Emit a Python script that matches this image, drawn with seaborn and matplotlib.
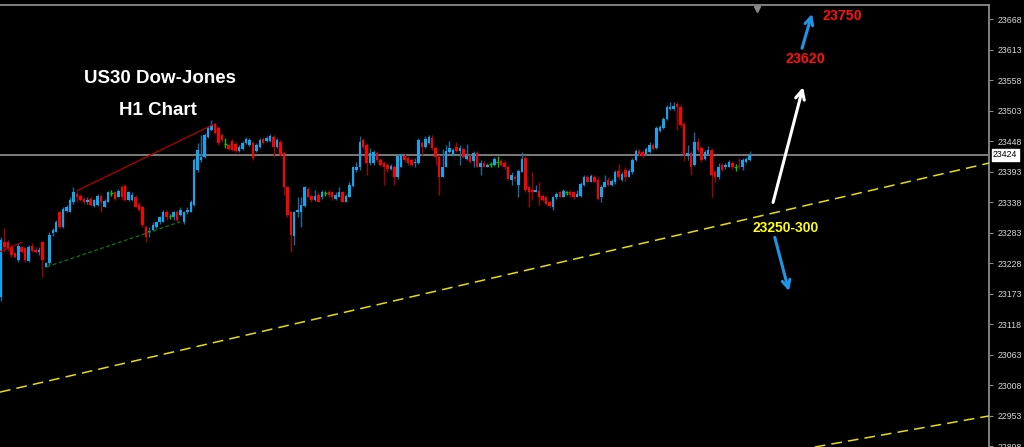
import numpy as np
import pandas as pd
import matplotlib
matplotlib.use("Agg")
import matplotlib.pyplot as plt
import matplotlib.transforms as mtransforms
import seaborn as sns

# US30 H1 candles
opens = [23167, 23267, 23267, 23258, 23246, 23235, 23257, 23255, 23233, 23260,
         23253, 23248, 23267, 23222, 23228, 23282, 23285, 23320, 23294, 23323,
         23321, 23338, 23354, 23350, 23345, 23338, 23345, 23332, 23334, 23350,
         23330, 23339, 23355, 23356, 23348, 23366, 23368, 23343, 23343, 23348,
         23334, 23329, 23294, 23284, 23289, 23293, 23302, 23303, 23321, 23313,
         23311, 23321, 23316, 23302, 23320, 23321, 23334, 23397, 23415, 23420,
         23456, 23469, 23480, 23473, 23460, 23444, 23442, 23449, 23444, 23431,
         23435, 23446, 23442, 23446, 23431, 23438, 23453, 23449, 23449, 23456,
         23438, 23447, 23428, 23365, 23320, 23278, 23320, 23320, 23332, 23363,
         23350, 23343, 23352, 23347, 23355, 23357, 23356, 23345, 23348, 23356,
         23339, 23348, 23368, 23397, 23401, 23451, 23442, 23410, 23410, 23428,
         23415, 23410, 23406, 23399, 23402, 23383, 23402, 23422, 23419, 23415,
         23410, 23410, 23446, 23438, 23446, 23455, 23437, 23420, 23384, 23402,
         23429, 23424, 23438, 23431, 23435, 23417, 23422, 23413, 23428, 23402,
         23410, 23402, 23407, 23406, 23411, 23413, 23410, 23402, 23379, 23384,
         23370, 23393, 23419, 23365, 23361, 23357, 23359, 23350, 23347, 23339,
         23330, 23347, 23356, 23348, 23356, 23357, 23356, 23348, 23350, 23370,
         23384, 23375, 23384, 23379, 23347, 23366, 23379, 23370, 23374, 23395,
         23379, 23397, 23384, 23392, 23415, 23431, 23429, 23426, 23429, 23442,
         23437, 23467, 23473, 23489, 23507, 23507, 23516, 23510, 23480, 23422,
         23428, 23406, 23447, 23437, 23417, 23426, 23433, 23393, 23383, 23406,
         23401, 23402, 23410, 23401, 23404, 23401, 23411, 23415]
closes = [23271, 23257, 23255, 23244, 23239, 23260, 23249, 23235, 23258, 23251,
          23249, 23253, 23235, 23228, 23280, 23289, 23303, 23294, 23327, 23330,
          23343, 23356, 23348, 23343, 23338, 23343, 23334, 23343, 23350, 23338,
          23341, 23356, 23355, 23345, 23359, 23347, 23343, 23356, 23352, 23330,
          23325, 23298, 23276, 23287, 23298, 23302, 23311, 23321, 23311, 23313,
          23320, 23307, 23325, 23320, 23325, 23339, 23415, 23433, 23420, 23460,
          23473, 23478, 23464, 23446, 23451, 23444, 23435, 23433, 23431, 23438,
          23446, 23453, 23451, 23419, 23442, 23451, 23446, 23455, 23458, 23438,
          23451, 23424, 23365, 23316, 23280, 23320, 23325, 23334, 23365, 23348,
          23343, 23350, 23339, 23357, 23355, 23352, 23347, 23352, 23356, 23339,
          23350, 23370, 23401, 23402, 23447, 23438, 23410, 23428, 23429, 23415,
          23406, 23401, 23399, 23404, 23384, 23422, 23424, 23415, 23410, 23406,
          23411, 23451, 23438, 23453, 23456, 23437, 23420, 23384, 23402, 23431,
          23437, 23433, 23431, 23437, 23420, 23422, 23411, 23428, 23402, 23410,
          23402, 23406, 23407, 23417, 23411, 23406, 23401, 23381, 23388, 23381,
          23395, 23417, 23361, 23357, 23356, 23361, 23348, 23343, 23336, 23332,
          23347, 23354, 23348, 23359, 23356, 23352, 23348, 23354, 23372, 23383,
          23375, 23386, 23375, 23345, 23366, 23375, 23370, 23377, 23393, 23383,
          23390, 23384, 23395, 23415, 23431, 23426, 23422, 23435, 23442, 23435,
          23473, 23474, 23489, 23510, 23510, 23512, 23510, 23478, 23424, 23428,
          23402, 23447, 23433, 23415, 23429, 23433, 23388, 23383, 23402, 23397,
          23406, 23411, 23401, 23401, 23401, 23415, 23417, 23424]
highs = [23275, 23291, 23271, 23262, 23249, 23264, 23260, 23258, 23262, 23264,
         23257, 23258, 23269, 23231, 23284, 23291, 23307, 23323, 23329, 23334,
         23347, 23365, 23357, 23354, 23348, 23347, 23348, 23345, 23354, 23354,
         23345, 23359, 23361, 23359, 23363, 23370, 23372, 23359, 23356, 23352,
         23338, 23332, 23298, 23293, 23302, 23305, 23314, 23325, 23325, 23318,
         23323, 23325, 23329, 23323, 23329, 23343, 23419, 23446, 23460, 23464,
         23476, 23487, 23483, 23476, 23464, 23455, 23446, 23453, 23447, 23442,
         23449, 23456, 23455, 23449, 23446, 23455, 23456, 23458, 23462, 23460,
         23455, 23451, 23431, 23368, 23323, 23323, 23347, 23348, 23368, 23366,
         23354, 23361, 23356, 23361, 23359, 23361, 23359, 23356, 23365, 23359,
         23354, 23374, 23404, 23411, 23458, 23455, 23446, 23437, 23433, 23431,
         23419, 23413, 23410, 23408, 23406, 23426, 23428, 23426, 23422, 23419,
         23419, 23455, 23449, 23458, 23460, 23460, 23440, 23424, 23435, 23442,
         23449, 23437, 23447, 23442, 23438, 23444, 23426, 23431, 23431, 23415,
         23413, 23410, 23411, 23420, 23422, 23417, 23415, 23406, 23392, 23388,
         23399, 23429, 23424, 23368, 23393, 23370, 23375, 23354, 23350, 23343,
         23350, 23357, 23359, 23363, 23359, 23361, 23359, 23361, 23375, 23388,
         23388, 23390, 23388, 23383, 23370, 23388, 23383, 23381, 23397, 23408,
         23393, 23401, 23399, 23419, 23435, 23435, 23433, 23438, 23447, 23446,
         23476, 23478, 23492, 23514, 23519, 23519, 23519, 23514, 23483, 23442,
         23431, 23465, 23455, 23440, 23433, 23440, 23437, 23397, 23410, 23410,
         23410, 23415, 23413, 23408, 23419, 23419, 23420, 23431]
lows = [23161, 23248, 23251, 23240, 23237, 23231, 23246, 23231, 23231, 23248,
        23246, 23244, 23203, 23221, 23226, 23278, 23284, 23291, 23291, 23321,
        23320, 23336, 23338, 23341, 23336, 23336, 23332, 23330, 23332, 23321,
        23329, 23338, 23350, 23343, 23347, 23343, 23341, 23341, 23341, 23329,
        23323, 23293, 23266, 23275, 23287, 23291, 23300, 23302, 23307, 23309,
        23307, 23303, 23314, 23300, 23318, 23320, 23332, 23393, 23411, 23419,
        23455, 23467, 23462, 23442, 23447, 23437, 23433, 23431, 23429, 23429,
        23433, 23444, 23440, 23415, 23429, 23437, 23444, 23447, 23447, 23420,
        23437, 23422, 23352, 23312, 23249, 23262, 23312, 23294, 23330, 23347,
        23339, 23341, 23338, 23345, 23350, 23348, 23343, 23343, 23347, 23338,
        23338, 23347, 23366, 23393, 23397, 23435, 23388, 23406, 23406, 23411,
        23404, 23370, 23392, 23397, 23370, 23381, 23401, 23411, 23406, 23404,
        23402, 23408, 23424, 23437, 23444, 23433, 23406, 23352, 23383, 23401,
        23428, 23422, 23429, 23406, 23419, 23415, 23410, 23402, 23401, 23388,
        23401, 23401, 23402, 23404, 23401, 23404, 23399, 23379, 23370, 23377,
        23348, 23392, 23357, 23330, 23343, 23356, 23334, 23341, 23334, 23329,
        23325, 23345, 23347, 23347, 23352, 23348, 23345, 23347, 23348, 23368,
        23374, 23374, 23374, 23343, 23338, 23365, 23368, 23368, 23372, 23379,
        23377, 23377, 23383, 23390, 23413, 23422, 23419, 23424, 23428, 23433,
        23435, 23465, 23471, 23487, 23505, 23505, 23469, 23474, 23413, 23415,
        23388, 23404, 23429, 23411, 23415, 23424, 23348, 23375, 23381, 23395,
        23399, 23401, 23399, 23395, 23399, 23397, 23409, 23413]

price_ticks = [23668, 23613, 23558, 23503, 23448, 23393, 23338, 23283,
               23228, 23173, 23118, 23063, 23008, 22953, 22898]
last_price = 23424

# trend lines (bar index, price)
resist_x = [22, 61.4]
resist_y = [23359, 23478]
resist2_x = [-0.3, 6.1]
resist2_y = [23249, 23266]
support_x = [13.3, 51.9]
support_y = [23222, 23303]
channel_x = [-0.3, 286.4]
channel_y = [22996, 23409]
channel2_x = [235.9, 286.4]
channel2_y = [22897, 22953]

# targets
target_up1 = 23620
target_up2 = 23750
target_down = "23250-300"

df = pd.DataFrame({"open": opens, "high": highs, "low": lows, "close": closes})
df["idx"] = np.arange(len(df))
df["kind"] = np.where(df.close > df.open, "up", np.where(df.close < df.open, "down", "doji"))

sns.set_style("dark", {"axes.facecolor": "black", "figure.facecolor": "black"})
plt.rcParams["font.family"] = ["Liberation Sans", "DejaVu Sans"]

fig = plt.figure(figsize=(10.24, 4.47), dpi=100)
ax = fig.add_axes([0, 0, 989 / 1024, 442 / 447])
ax.set_facecolor("black")

body_col = {"up": "#14a6ec", "down": "#ff0000", "doji": "#00c800"}
wick_col = {"up": "#0d6fa3", "down": "#a00000", "doji": "#00c800"}

# wicks
ax.vlines(df.idx, df.low, df.high, colors=[wick_col[k] for k in df.kind], lw=1.0, zorder=2)

# bodies
bodies = df[df.kind != "doji"]
bottom = np.minimum(bodies.open, bodies.close)
height = np.maximum(np.abs(bodies.close - bodies.open), 1.8)
ax.bar(bodies.idx, height, bottom=bottom, width=0.72,
       color=[body_col[k] for k in bodies.kind], linewidth=0, zorder=3)

# doji crosses
dj = df[df.kind == "doji"]
ax.hlines(dj.close, dj.idx - 0.4, dj.idx + 0.4, colors="#00c800", lw=1.0, zorder=3)

# current price line
ax.axhline(last_price, color="#7c7c7c", lw=1.4, zorder=1)

# trend lines
ax.plot(resist_x, resist_y, color="#b40000", lw=0.9, zorder=4)
ax.plot(resist2_x, resist2_y, color="#b40000", lw=0.9, zorder=4)
ax.plot(support_x, support_y, color="#0b7a0b", lw=0.9, ls=(0, (3, 2)), zorder=4)
ax.plot(channel_x, channel_y, color="#e6e000", lw=1.1, ls=(0, (7, 4)), zorder=4)
ax.plot(channel2_x, channel2_y, color="#e6e000", lw=1.1, ls=(0, (7, 4)), zorder=4)

# arrows
ax.annotate("", xy=(232.5, 23546), xytext=(223.8, 23338),
            arrowprops=dict(arrowstyle="->", color="white", lw=2.2,
                            mutation_scale=16, shrinkA=0, shrinkB=0))
ax.annotate("", xy=(235.1, 23678), xytext=(232.2, 23616),
            arrowprops=dict(arrowstyle="->", color="#1e96e6", lw=2.2,
                            mutation_scale=14, shrinkA=0, shrinkB=0))
ax.annotate("", xy=(228.4, 23178), xytext=(224.3, 23275),
            arrowprops=dict(arrowstyle="->", color="#1e96e6", lw=2.2,
                            mutation_scale=14, shrinkA=0, shrinkB=0))

# labels
ax.text(243.8, 23674, str(target_up2), color="#ff1010", fontsize=10.3,
        fontweight="bold", ha="center", va="center")
ax.text(233.3, 23596, str(target_up1), color="#ff1010", fontsize=10.3,
        fontweight="bold", ha="center", va="center")
ax.text(227.5, 23292, target_down, color="#ffff00", fontsize=10,
        fontweight="bold", ha="center", va="center")
ax.text(46.1, 23562, "US30 Dow-Jones", color="white", fontsize=13.5,
        fontweight="bold", ha="center", va="center")
ax.text(45.5, 23503, "H1 Chart", color="white", fontsize=13.5,
        fontweight="bold", ha="center", va="center")

ax.set_xlim(-0.3, 286.4)
ax.set_ylim(22897, 23694)

# price scale on the right
ax.yaxis.tick_right()
ax.set_yticks(price_ticks)
ax.set_yticklabels([str(t) for t in price_ticks])
ax.tick_params(axis="y", colors="#8a8a8a", labelcolor="#d8d8d8", labelsize=6.3,
               direction="out", length=3, width=0.8, pad=3)
ax.set_xticks([])
ax.grid(False)
for side in ["left", "bottom"]:
    ax.spines[side].set_visible(False)
for side in ["top", "right"]:
    ax.spines[side].set_visible(True)
    ax.spines[side].set_color("#8a8a8a")
    ax.spines[side].set_linewidth(1.3)

trans = mtransforms.blended_transform_factory(ax.transAxes, ax.transData)
ax.text(1.004, last_price, str(last_price), transform=trans, color="black",
        fontsize=6.3, ha="left", va="center", clip_on=False,
        bbox=dict(boxstyle="square,pad=0.15", fc="white", ec="white"))

# chart shift marker
trans_top = mtransforms.blended_transform_factory(ax.transData, ax.transAxes)
ax.plot([219.1], [0.992], marker="v", ms=5, color="#8a8a8a", transform=trans_top,
        clip_on=False, zorder=5)

fig.savefig("out.png", dpi=100, facecolor="black")
plt.close()
